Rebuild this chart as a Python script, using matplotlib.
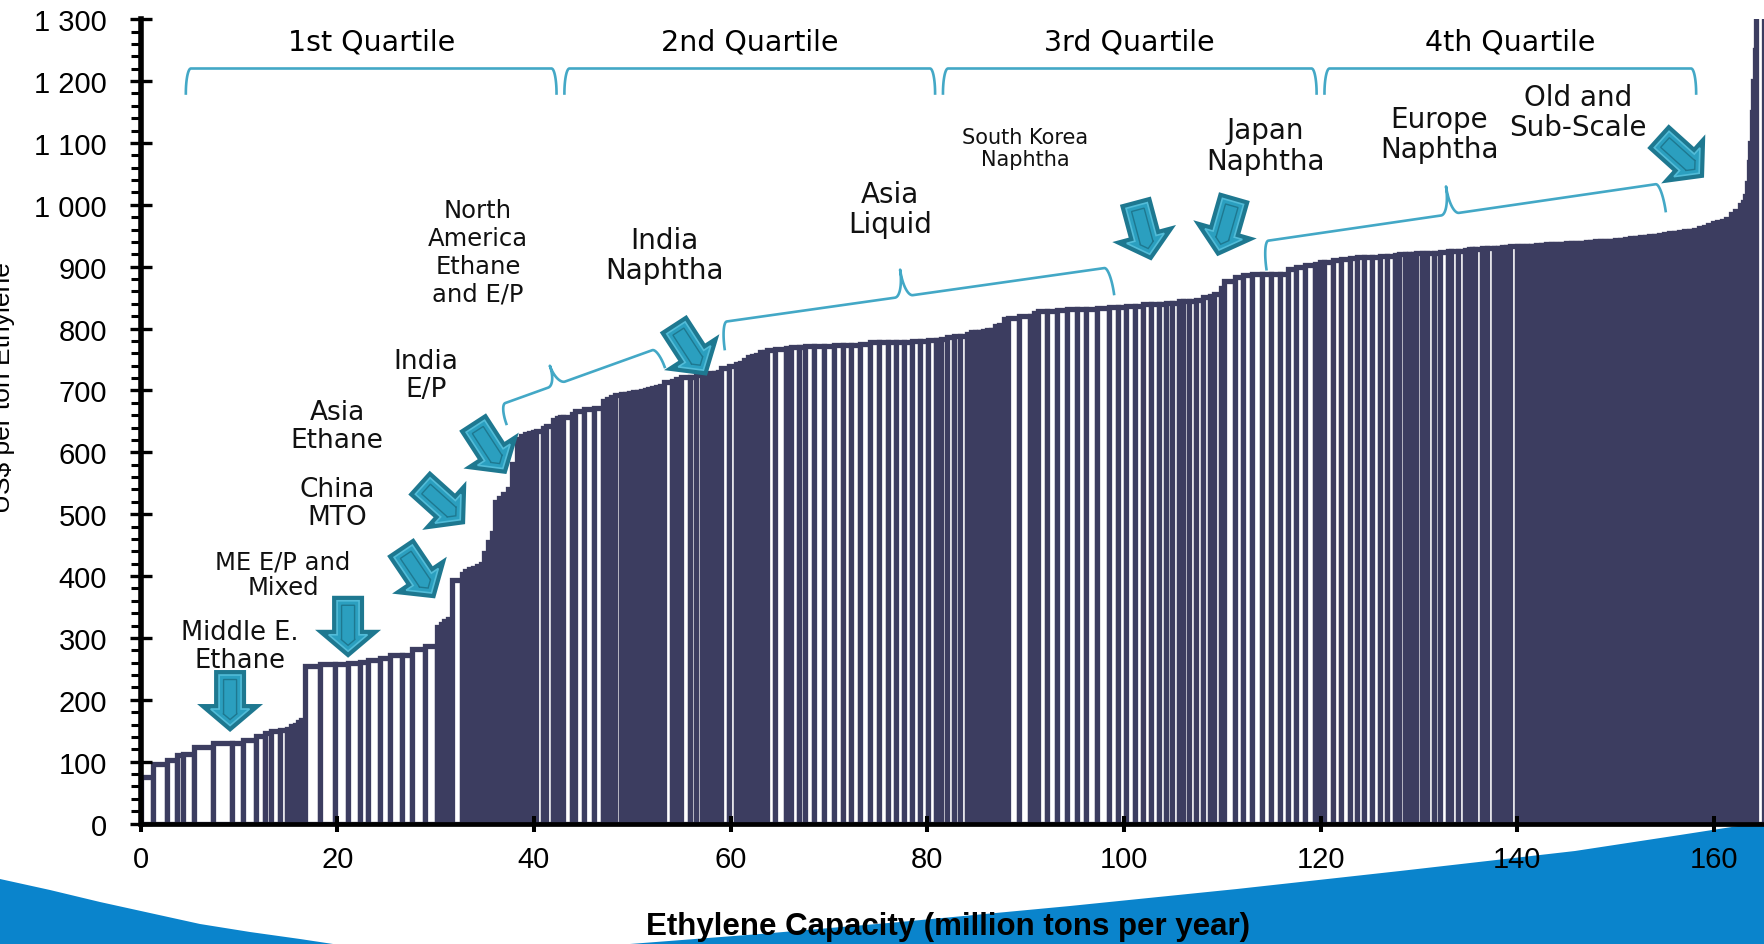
import numpy as np
import matplotlib
matplotlib.use("Agg")
import matplotlib.pyplot as plt
from matplotlib.patches import Polygon
from matplotlib.ticker import MultipleLocator, FuncFormatter

# ethylene plants ranked by cash cost: capacity (million t/yr) and cost (US$ per ton)
capacity = [
    1.29, 1.36, 1.09, 0.54, 1.15, 1.97, 1.87, 1.18, 1.29, 0.92, 0.64, 0.90, 0.66, 0.40, 0.40, 0.35, 0.35, 0.36,
    1.53, 1.53, 1.35, 1.19, 0.85, 1.18, 1.02, 1.19, 1.02, 1.35, 1.19,
    0.40, 0.38, 0.38, 0.37, 1.02,
    0.35, 0.40, 0.40, 0.40, 0.35, 0.40, 0.40, 0.35, 0.35, 0.40, 0.43, 0.45, 0.45, 0.45, 0.40, 0.40, 0.45, 0.45,
    0.25, 0.75, 0.25, 0.75, 0.35, 0.35, 0.35, 0.85, 0.30, 0.95, 1.05, 0.90, 0.40, 0.40, 0.40, 0.60,
    0.40, 0.40, 0.40, 0.40, 0.40, 0.40, 0.40, 0.40, 0.40, 0.40, 0.40,
    0.80, 0.40, 0.50, 0.90, 0.65, 0.60, 0.40, 0.40, 0.40, 0.40, 0.35, 0.80, 0.75,
    0.40, 0.40, 0.40, 0.40, 0.40, 0.40, 0.40, 0.35,
    0.80, 1.10, 0.45, 0.90, 0.55, 0.95,
    1.00, 1.02, 0.88, 0.85, 0.93, 1.02, 0.93, 0.85, 0.84, 0.85, 0.83, 0.75, 0.80, 0.80, 0.60, 0.60, 0.70, 0.55, 0.75, 0.45,
    0.40, 0.40, 0.40, 0.40, 0.40, 0.40, 0.45, 0.45, 0.45, 1.10, 1.10, 0.40, 0.40,
    0.95, 1.00, 1.05, 1.00, 0.90, 1.15, 1.20, 0.90, 0.85, 0.85, 0.80, 0.85, 0.80, 0.70, 0.65, 0.70,
    0.40, 0.65, 0.70, 0.65, 0.80, 0.35, 0.70, 0.35,
    1.15, 0.75, 0.90, 1.00, 0.95, 0.90, 0.85, 0.85, 0.90, 1.00, 0.45, 0.45,
    0.90, 0.85, 0.85, 0.75, 0.70, 0.80, 0.80, 0.80, 0.80, 0.40, 0.60, 0.40, 0.40, 0.30,
    0.60, 0.55, 0.65, 0.70, 0.80, 0.30, 0.65, 0.70, 0.40, 0.35, 0.35, 0.70, 0.50, 0.70,
    0.40, 0.40, 0.40, 0.40, 0.70,
    0.50, 0.50, 0.50, 0.50, 0.50, 0.50, 0.50, 0.50, 0.50, 0.50, 0.50, 0.50,
    0.50, 0.50, 0.50, 0.50, 0.50, 0.50, 0.50, 0.50, 0.50, 0.50, 0.50, 0.50,
    0.50, 0.50, 0.50, 0.50, 0.50, 0.50, 0.50, 0.50,
    0.50, 0.50, 0.50, 0.50, 0.50, 0.50, 0.50,
    0.45, 0.45, 0.45, 0.45, 0.45,
    0.50, 0.50, 0.25, 0.25, 0.20, 0.15, 0.15, 0.15, 0.15, 0.15, 0.15, 0.80,
]
cost = [
    75, 97, 103, 111, 113, 124, 131, 131, 135, 141, 147, 149, 151, 153, 158, 160, 164, 167,
    254, 258, 258, 259, 261, 265, 267, 272, 273, 282, 287,
    318, 323, 327, 330, 393,
    403, 408, 411, 413, 417, 420, 438, 455, 470, 519, 526, 533, 540, 581, 622, 627, 630, 632,
    633, 635, 640, 643, 652, 655, 657, 657, 662, 667, 670, 672, 683, 686, 690, 692,
    694, 695, 696, 697, 698, 699, 701, 702, 704, 706, 708,
    713, 716, 719, 721, 722, 725, 727, 727, 728, 729, 730, 737, 740,
    743, 745, 750, 754, 756, 758, 762, 763,
    765, 767, 768, 770, 771, 772,
    772, 772, 773, 773, 774, 775, 778, 778, 778, 779, 779, 780, 780, 782, 782, 784, 787, 788, 788, 792,
    794, 795, 795, 796, 797, 798, 804, 806, 815, 817, 820, 821, 825,
    829, 829, 830, 831, 832, 832, 833, 835, 835, 836, 837, 839, 840, 840, 841, 842,
    844, 844, 845, 847, 851, 852, 856, 866,
    877, 883, 886, 888, 888, 888, 889, 896, 900, 903, 905, 908,
    908, 911, 913, 914, 915, 915, 916, 917, 918, 919, 920, 920, 921, 921,
    922, 922, 923, 923, 924, 925, 926, 926, 927, 928, 928, 929, 930, 930,
    931, 931, 932, 932, 933,
    933, 933, 934, 934, 935, 935, 936, 936, 937, 937, 938, 938,
    939, 939, 940, 940, 941, 941, 942, 942, 943, 944, 945, 946,
    947, 948, 948, 949, 950, 951, 953, 954,
    955, 956, 957, 958, 960, 962, 965,
    968, 970, 972, 974, 977,
    985, 990, 1000, 1005, 1015, 1035, 1070, 1100, 1150, 1200, 1250, 1320,
]

quartile_names = ["1st Quartile", "2nd Quartile", "3rd Quartile", "4th Quartile"]
quartile_from = [4.6, 43.1, 81.6, 120.4]
quartile_to = [42.3, 80.8, 119.6, 158.2]

region_names = ["Middle E.\nEthane", "ME E/P and\nMixed", "China\nMTO", "Asia\nEthane", "India\nE/P",
                "North\nAmerica\nEthane\nand E/P", "India\nNaphtha", "Asia\nLiquid",
                "South Korea\nNaphtha", "Japan\nNaphtha", "Europe\nNaphtha", "Old and\nSub-Scale"]
region_x = [10.1, 14.5, 20.0, 20.0, 29.0, 34.3, 53.3, 76.2, 90.0, 114.4, 132.1, 146.2]
region_y = [287, 403, 518, 642, 725, 924, 919, 993, 1092, 1096, 1115, 1150]
region_size = [18.5, 17.5, 19, 19, 19, 17.5, 20, 20, 15, 20, 20, 20]

# arrows: tip (data units) and pointing direction in degrees, 90 = straight down
arrow_x = [9.1, 21.1, 29.95, 33.0, 37.2, 57.6, 102.8, 109.5, 159.0]
arrow_y = [148, 268, 364, 484, 565, 724, 910, 917, 1044]
arrow_dir = [90, 90, 56, 42, 57, 57, 75, 106, 42]

# sloped braces grouping plants: left tip, right tip, height (px), cusp position
brace_from = [(37.2, 646), (59.4, 767), (114.5, 896)]
brace_to = [(53.3, 738), (99.0, 856), (155.1, 990)]
brace_h = [20, 27, 28]
brace_cusp = [0.36, 0.47, 0.47]

NAVY = "#3c3d60"
BRACE = "#43a8c6"
ARROW_DARK = "#1e7890"
ARROW_LIGHT = "#2b9fbf"
BLUE = "#0a84cc"
LABEL_FONT = ["DejaVu Sans"]

plt.rcParams["font.family"] = ["Liberation Sans", "DejaVu Sans"]

W, H = 1764, 945
fig = plt.figure(figsize=(W / 100, H / 100), dpi=100)
fig.patch.set_facecolor("white")


def fig_poly(pts, **kw):
    p = Polygon([(x / W, 1 - y / H) for x, y in pts], closed=True,
                transform=fig.transFigure, zorder=-5, **kw)
    fig.add_artist(p)


# background swoosh at the bottom of the slide
fig_poly([(0, 880), (50, 891), (100, 903), (150, 914), (200, 925), (250, 933), (300, 940), (333, 945),
          (0, 945)], fc=BLUE, ec="none")
fig_poly([(630, 945), (760, 935), (900, 923), (1070, 907), (1237, 890), (1400, 872), (1575, 852),
          (1680, 836), (1764, 823), (1764, 945)], fc=BLUE, ec="none")

ax = fig.add_axes([140.6 / W, 1 - 824.6 / H, (W - 140.6) / W, (824.6 - 20.25) / H])
ax.set_facecolor("none")
ax.set_xlim(0, 165.1)
ax.set_ylim(0, 1300)

left = np.concatenate([[0], np.cumsum(capacity)[:-1]])
ax.bar(left, cost, width=capacity, align="edge", color="white", edgecolor=NAVY, linewidth=3.8, zorder=1)

for s in ["top", "right"]:
    ax.spines[s].set_visible(False)
ax.spines["left"].set_linewidth(4.0)
ax.spines["bottom"].set_linewidth(3.4)

ax.yaxis.set_major_locator(MultipleLocator(100))
ax.yaxis.set_minor_locator(MultipleLocator(20))
ax.xaxis.set_major_locator(MultipleLocator(20))
ax.yaxis.set_major_formatter(FuncFormatter(lambda v, pos: f"{v:,.0f}".replace(",", " ")))
ax.tick_params(axis="y", which="major", direction="inout", length=16.5, width=2.4, pad=16, labelsize=21)
ax.tick_params(axis="y", which="minor", direction="out", length=7, width=2.2)
ax.tick_params(axis="x", which="major", direction="inout", length=11.5, width=2.9, pad=10, labelsize=21)

fig.text(948 / W, 1 - 927 / H, "Ethylene Capacity (million tons per year)", ha="center", va="center",
         fontsize=22.5, fontweight="bold")
fig.text(3 / W, 1 - 388 / H, "US$ per ton Ethylene", rotation=90, ha="center", va="center", fontsize=19)


def to_px(pts):
    return ax.transData.transform(np.asarray(pts, float))


def to_data(pts):
    return ax.transData.inverted().transform(pts)


def draw_brace(p0, p1, h, cusp=None, r_end=6, r_cusp=9):
    a, b = to_px([p0, p1])
    L = np.hypot(*(b - a))
    u = (b - a) / L
    n = np.array([-u[1], u[0]])
    q = np.linspace(0, np.pi / 2, 16)
    s = [r_end * (1 - np.cos(q))]
    t = [h * np.sin(q)]
    if cusp is not None:
        c = cusp * L
        s += [c - r_cusp + r_cusp * np.sin(q), c + r_cusp * (1 - np.cos(q))]
        t += [h + h * (1 - np.cos(q)), h + h * (1 - np.sin(q))]
    s.append(L - r_end + r_end * np.sin(q))
    t.append(h * np.cos(q))
    s = np.concatenate(s)
    t = np.concatenate(t)
    d = to_data(a + s[:, None] * u + t[:, None] * n)
    ax.plot(d[:, 0], d[:, 1], color=BRACE, lw=1.9, clip_on=False, zorder=4)


def draw_arrow(tip, angle, length=62, shaft=32, head=66, head_len=28):
    tp = to_px([tip])[0]
    ang = np.radians(angle)
    d = np.array([np.cos(ang), -np.sin(ang)])
    p = np.array([-d[1], d[0]])
    slope = (head / 2) / head_len
    k = np.hypot(1, slope) / slope

    def outline(ins):
        tip_a = -k * ins
        base_a = -head_len + ins
        hw = (head_len - ins - k * ins) * slope
        sw = shaft / 2 - ins
        tail_a = -length + ins
        loc = [(tip_a, 0), (base_a, hw), (base_a, sw), (tail_a, sw),
               (tail_a, -sw), (base_a, -sw), (base_a, -hw)]
        return to_data(np.array([tp + a_ * d + w_ * p for a_, w_ in loc]))

    ax.add_patch(Polygon(outline(0), closed=True, fc=ARROW_DARK, ec="none", clip_on=False, zorder=5))
    ax.add_patch(Polygon(outline(5), closed=True, fc=ARROW_LIGHT, ec="#52bcd8", lw=1.2,
                         clip_on=False, zorder=6))
    ax.add_patch(Polygon(outline(9.5), closed=True, fc="none", ec=ARROW_DARK, lw=1.0,
                         clip_on=False, zorder=7))


# quartile braces and titles
for name, x0, x1 in zip(quartile_names, quartile_from, quartile_to):
    draw_brace((x0, 1180), (x1, 1180), 25, r_end=5)
    ax.text((x0 + x1) / 2, 1264, name, ha="center", va="center", fontsize=20.5, family=LABEL_FONT)

for p0, p1, h, c in zip(brace_from, brace_to, brace_h, brace_cusp):
    draw_brace(p0, p1, h, cusp=c)

for x, y, a in zip(arrow_x, arrow_y, arrow_dir):
    draw_arrow((x, y), a)

for name, x, y, fs in zip(region_names, region_x, region_y, region_size):
    ax.text(x, y, name, ha="center", va="center", fontsize=fs, family=LABEL_FONT, color="#111111",
            linespacing=1.2 if name.startswith("North") else 1.1, zorder=8)

fig.savefig("out.png", dpi=100)
